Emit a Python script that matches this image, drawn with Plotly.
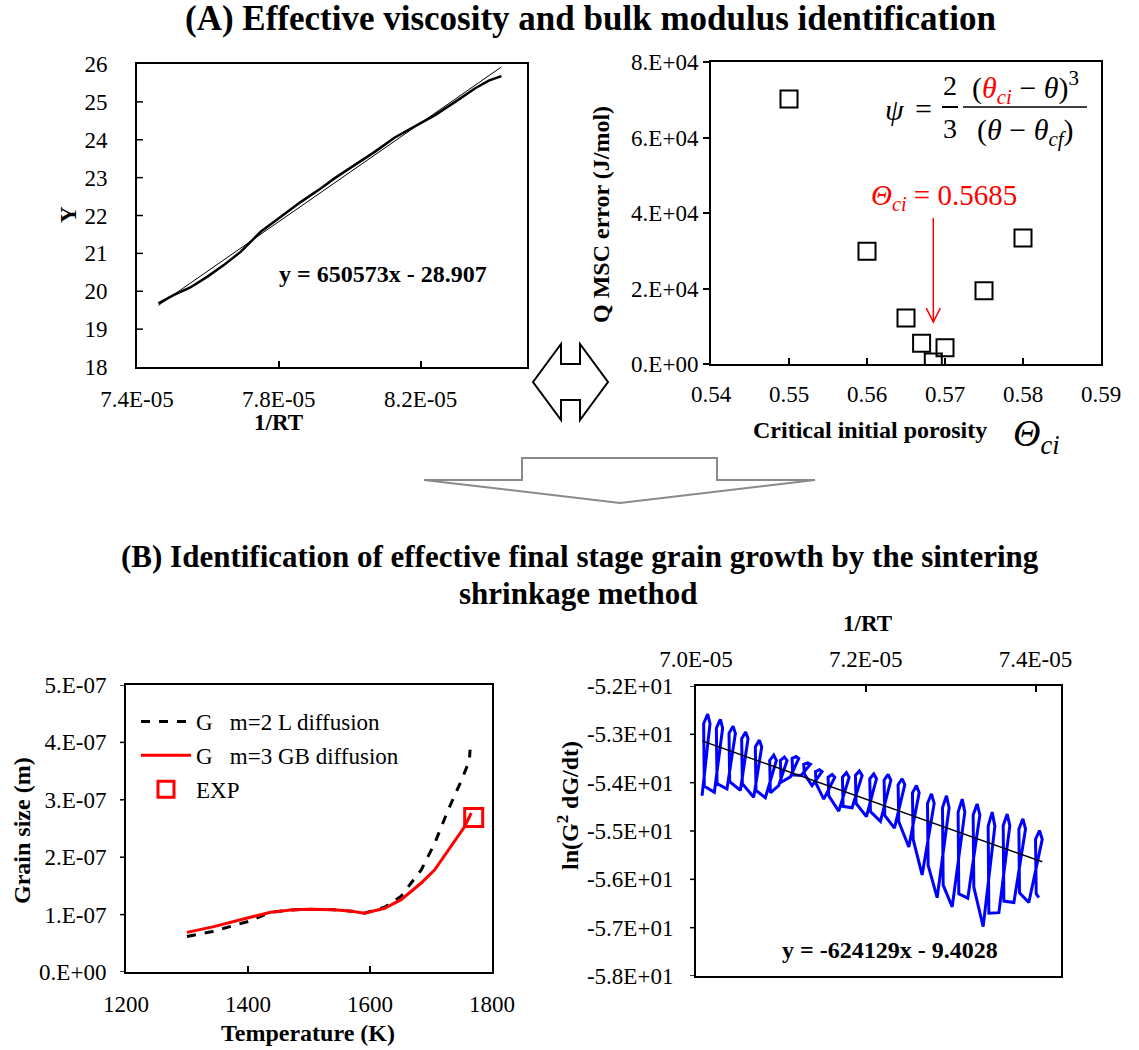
import plotly.graph_objects as go

W, H = 1139, 1050
FONT = "Liberation Serif"


def px(x):
    return x / W


def py(y):
    return 1 - y / H


# ---------------- Panel A-left : Y vs 1/RT ----------------
a1_x = [7.4604e-5, 7.5030e-5, 7.5504e-5, 7.5977e-5, 7.6448e-5, 7.6922e-5, 7.7489e-5,
        7.8057e-5, 7.8624e-5, 7.9191e-5, 7.9569e-5, 8.0136e-5, 8.0704e-5, 8.1271e-5,
        8.1838e-5, 8.2406e-5, 8.2973e-5, 8.3540e-5, 8.3921e-5, 8.4278e-5]
a1_y = [19.68, 19.90, 20.10, 20.38, 20.69, 21.04, 21.57, 21.97, 22.36, 22.72, 22.98,
        23.33, 23.68, 24.06, 24.36, 24.65, 25.00, 25.36, 25.56, 25.68]
a1_slope, a1_intercept = 650573, -28.907
a1_xticks = [7.4e-5, 7.8e-5, 8.2e-5]
a1_xticklabels = ["7.4E-05", "7.8E-05", "8.2E-05"]
a1_yticks = [18, 19, 20, 21, 22, 23, 24, 25, 26]
a1_yticklabels = ["18", "19", "20", "21", "22", "23", "24", "25", "26"]

# ---------------- Panel A-right : Q MSC error vs critical porosity ----------------
a2_theta = [0.550, 0.560, 0.565, 0.567, 0.5685, 0.570, 0.575, 0.580]
a2_err = [70200, 29900, 12200, 5500, 500, 4300, 19400, 33400]
a2_theta_opt = 0.5685
a2_xticks = [0.54, 0.55, 0.56, 0.57, 0.58, 0.59]
a2_xticklabels = ["0.54", "0.55", "0.56", "0.57", "0.58", "0.59"]
a2_yticks = [0, 20000, 40000, 60000, 80000]
a2_yticklabels = ["0.E+00", "2.E+04", "4.E+04", "6.E+04", "8.E+04"]

# ---------------- Panel B-left : grain size vs temperature ----------------
b1_T_m2 = [1300, 1340, 1400, 1437, 1470, 1497, 1541, 1570, 1591, 1624, 1651, 1684,
           1706, 1728, 1750, 1763, 1764, 1766]
b1_G_m2 = [0.62e-7, 0.70e-7, 0.88e-7, 1.04e-7, 1.08e-7, 1.095e-7, 1.085e-7, 1.06e-7,
           1.026e-7, 1.13e-7, 1.32e-7, 1.78e-7, 2.24e-7, 2.82e-7, 3.34e-7, 3.69e-7,
           3.87e-7, 3.72e-7]
b1_T_m3 = [1300, 1344, 1399, 1437, 1470, 1497, 1541, 1570, 1591, 1624, 1651, 1684,
           1706, 1733, 1755, 1766]
b1_G_m3 = [0.69e-7, 0.79e-7, 0.94e-7, 1.04e-7, 1.08e-7, 1.095e-7, 1.085e-7, 1.06e-7,
           1.026e-7, 1.11e-7, 1.26e-7, 1.55e-7, 1.78e-7, 2.19e-7, 2.53e-7, 2.77e-7]
b1_T_exp = [1770]
b1_G_exp = [2.69e-7]
b1_xticks = [1200, 1400, 1600, 1800]
b1_xticklabels = ["1200", "1400", "1600", "1800"]
b1_yticks = [0, 1e-7, 2e-7, 3e-7, 4e-7, 5e-7]
b1_yticklabels = ["0.E+00", "1.E-07", "2.E-07", "3.E-07", "4.E-07", "5.E-07"]

# ---------------- Panel B-right : ln(G^2 dG/dt) vs 1/RT ----------------
b2_x = [7.0071e-5, 7.0165e-5, 7.0138e-5, 7.0090e-5, 7.0098e-5,
        7.0216e-5, 7.0314e-5, 7.0287e-5, 7.0240e-5, 7.0248e-5,
        7.0365e-5, 7.0464e-5, 7.0436e-5, 7.0389e-5, 7.0397e-5,
        7.0523e-5, 7.0613e-5, 7.0585e-5, 7.0538e-5, 7.0546e-5,
        7.0680e-5, 7.0774e-5, 7.0747e-5, 7.0699e-5, 7.0707e-5,
        7.0817e-5, 7.0947e-5, 7.0916e-5, 7.0868e-5, 7.0876e-5,
        7.0974e-5, 7.1073e-5, 7.1041e-5, 7.0994e-5, 7.1002e-5,
        7.1112e-5, 7.1210e-5, 7.1179e-5, 7.1132e-5, 7.1139e-5,
        7.1238e-5, 7.1348e-5, 7.1316e-5, 7.1269e-5, 7.1277e-5,
        7.1367e-5, 7.1485e-5, 7.1454e-5, 7.1407e-5, 7.1415e-5,
        7.1505e-5, 7.1635e-5, 7.1603e-5, 7.1556e-5, 7.1564e-5,
        7.1682e-5, 7.1804e-5, 7.1772e-5, 7.1725e-5, 7.1733e-5,
        7.1839e-5, 7.1957e-5, 7.1925e-5, 7.1878e-5, 7.1886e-5,
        7.2008e-5, 7.2126e-5, 7.2094e-5, 7.2047e-5, 7.2055e-5,
        7.2173e-5, 7.2295e-5, 7.2263e-5, 7.2216e-5, 7.2224e-5,
        7.2338e-5, 7.2460e-5, 7.2428e-5, 7.2381e-5, 7.2389e-5,
        7.2507e-5, 7.2629e-5, 7.2597e-5, 7.2550e-5, 7.2558e-5,
        7.2664e-5, 7.2806e-5, 7.2774e-5, 7.2727e-5, 7.2735e-5,
        7.2841e-5, 7.2982e-5, 7.2951e-5, 7.2904e-5, 7.2912e-5,
        7.3018e-5, 7.3167e-5, 7.3136e-5, 7.3088e-5, 7.3096e-5,
        7.3202e-5, 7.3344e-5, 7.3312e-5, 7.3265e-5, 7.3273e-5,
        7.3383e-5, 7.3521e-5, 7.3489e-5, 7.3442e-5, 7.3450e-5,
        7.3568e-5, 7.3697e-5, 7.3666e-5, 7.3619e-5, 7.3627e-5,
        7.3745e-5, 7.3882e-5, 7.3851e-5, 7.3804e-5, 7.3811e-5,
        7.3921e-5, 7.4079e-5, 7.4047e-5, 7.4000e-5, 7.4008e-5,
        7.4039e-5]
b2_y = [-54.27, -52.78, -52.58, -52.78, -54.07,
        -54.20, -52.87, -52.69, -52.87, -54.02,
        -54.13, -52.98, -52.83, -52.98, -53.98,
        -54.16, -53.09, -52.95, -53.09, -54.02,
        -54.30, -53.26, -53.12, -53.26, -54.16,
        -54.31, -53.54, -53.43, -53.54, -54.21,
        -54.06, -53.54, -53.47, -53.54, -53.99,
        -53.88, -53.50, -53.46, -53.50, -53.84,
        -53.85, -53.62, -53.59, -53.62, -53.82,
        -54.06, -53.77, -53.73, -53.77, -54.02,
        -54.34, -53.89, -53.83, -53.89, -54.27,
        -54.59, -53.89, -53.79, -53.89, -54.49,
        -54.52, -53.85, -53.76, -53.85, -54.43,
        -54.70, -53.92, -53.82, -53.92, -54.60,
        -54.80, -53.95, -53.83, -53.95, -54.68,
        -54.94, -54.04, -53.92, -54.04, -54.81,
        -55.33, -54.21, -54.06, -54.21, -55.17,
        -55.91, -54.43, -54.23, -54.43, -55.71,
        -56.38, -54.52, -54.27, -54.52, -56.12,
        -56.57, -54.61, -54.34, -54.61, -56.30,
        -56.39, -54.67, -54.44, -54.67, -56.16,
        -56.98, -54.90, -54.61, -54.90, -56.70,
        -56.69, -54.89, -54.65, -54.89, -56.45,
        -56.48, -54.96, -54.75, -54.96, -56.28,
        -56.48, -55.17, -54.99, -55.17, -56.30,
        -56.38]
b2_slope, b2_intercept = -624129, -9.4028
b2_xticks = [7.0e-5, 7.2e-5, 7.4e-5]
b2_xticklabels = ["7.0E-05", "7.2E-05", "7.4E-05"]
b2_yticks = [-58, -57, -56, -55, -54, -53, -52]
b2_yticklabels = ["-5.8E+01", "-5.7E+01", "-5.6E+01", "-5.5E+01", "-5.4E+01",
                  "-5.3E+01", "-5.2E+01"]

# ---------------- figure ----------------
fig = go.Figure()

# A-left
fig.add_trace(go.Scatter(x=a1_x, y=a1_y, mode="lines", line=dict(color="black", width=2.5),
                         xaxis="x", yaxis="y", showlegend=False))
a1_fx = [min(a1_x), max(a1_x)]
fig.add_trace(go.Scatter(x=a1_fx, y=[a1_slope * v + a1_intercept for v in a1_fx], mode="lines",
                         line=dict(color="black", width=1), xaxis="x", yaxis="y",
                         showlegend=False))

# A-right
fig.add_trace(go.Scatter(x=a2_theta, y=a2_err, mode="markers",
                         marker=dict(symbol="square-open", size=17, color="black",
                                     line=dict(width=2, color="black")),
                         xaxis="x2", yaxis="y2", showlegend=False))

# B-left
fig.add_trace(go.Scatter(x=b1_T_m2, y=b1_G_m2, mode="lines", name="G   m=2 L diffusion",
                         line=dict(color="black", width=3, dash="dash"),
                         xaxis="x3", yaxis="y3", legendgroup="a"))
fig.add_trace(go.Scatter(x=b1_T_m3, y=b1_G_m3, mode="lines", name="G   m=3 GB diffusion",
                         line=dict(color="#ff0000", width=3),
                         xaxis="x3", yaxis="y3", legendgroup="b"))
fig.add_trace(go.Scatter(x=b1_T_exp, y=b1_G_exp, mode="markers", name="EXP",
                         marker=dict(symbol="square-open", size=18, color="#ff0000",
                                     line=dict(width=3, color="#ff0000")),
                         xaxis="x3", yaxis="y3", legendgroup="c"))

# B-right
fig.add_trace(go.Scatter(x=b2_x, y=b2_y, mode="lines", line=dict(color="#0000ff", width=3),
                         xaxis="x4", yaxis="y4", showlegend=False))
b2_fx = [min(b2_x), max(b2_x)]
fig.add_trace(go.Scatter(x=b2_fx, y=[b2_slope * v + b2_intercept for v in b2_fx], mode="lines",
                         line=dict(color="black", width=1.5), xaxis="x4", yaxis="y4",
                         showlegend=False))

tickfont = dict(family=FONT, size=23, color="black")
CLEAR = "rgba(0,0,0,0)"


def axis(domain, rng, tickvals, ticktext, ticks, anchor, side=None, standoff=4,
         tickcolor="black", ticklen=6):
    d = dict(domain=domain, range=rng, tickvals=tickvals, ticktext=ticktext, ticks=ticks,
             ticklen=ticklen, tickwidth=1.5, tickcolor=tickcolor, showline=True,
             linecolor="black", linewidth=2, mirror=True, showgrid=False, zeroline=False,
             tickfont=tickfont, anchor=anchor, ticklabelstandoff=standoff, automargin=False)
    if side:
        d["side"] = side
    return d


# y axes: label distance set with long invisible ticks; visible ticks drawn as shapes below
fig.update_layout(
    width=W, height=H, margin=dict(l=0, r=0, t=0, b=0, autoexpand=False),
    paper_bgcolor="white", plot_bgcolor="white",
    font=dict(family=FONT, color="black"),
    xaxis=axis([px(137), px(527)], [7.4e-5, 8.5e-5], a1_xticks, a1_xticklabels, "inside", "y",
               standoff=10),
    yaxis=axis([py(367), py(64)], [18, 26], a1_yticks, a1_yticklabels, "outside", "x",
               standoff=0, tickcolor=CLEAR, ticklen=23),
    xaxis2=axis([px(711), px(1101)], [0.54, 0.59], a2_xticks, a2_xticklabels, "inside", "y2",
                standoff=8),
    yaxis2=axis([py(364), py(62)], [0, 80000], a2_yticks, a2_yticklabels, "outside", "x2",
                standoff=0),
    xaxis3=axis([px(126), px(492)], [1200, 1800], b1_xticks, b1_xticklabels, "inside", "y3",
                standoff=10),
    yaxis3=axis([py(972), py(685)], [0, 5e-7], b1_yticks, b1_yticklabels, "outside", "x3",
                standoff=0, tickcolor=CLEAR, ticklen=13),
    xaxis4=axis([px(696), px(1061)], [7.0e-5, 7.43e-5], b2_xticks, b2_xticklabels, "inside",
                "y4", side="top", standoff=8),
    yaxis4=axis([py(976), py(686)], [-58, -52], b2_yticks, b2_yticklabels, "outside", "x4",
                standoff=0, tickcolor=CLEAR, ticklen=16),
    legend=dict(x=px(136), y=py(700), xanchor="left", yanchor="top",
                font=dict(family=FONT, size=23, color="black"), bgcolor="rgba(0,0,0,0)",
                traceorder="grouped", tracegroupgap=1, itemwidth=50),
)

ann = []


def txt(x, y, s, size=22, bold=False, color="black", angle=0, italic=False, xanchor="center"):
    if bold:
        s = "<b>" + s + "</b>"
    if italic:
        s = "<i>" + s + "</i>"
    ann.append(dict(x=px(x), y=py(y), xref="paper", yref="paper", text=s, showarrow=False,
                    font=dict(family=FONT, size=size, color=color), textangle=angle,
                    xanchor=xanchor, yanchor="middle"))


# titles
txt(590, 19, "(A) Effective viscosity and bulk modulus identification", size=35, bold=True)
txt(580, 556, "(B) Identification of effective final stage grain growth by the sintering",
    size=31, bold=True)
txt(578, 593, "shrinkage method", size=31, bold=True)

# A-left labels
txt(278, 422, "1/RT", size=23, bold=True)
txt(69, 215, "Y", size=23, bold=True, angle=-90)
txt(383, 274, "y = 650573x - 28.907", size=24, bold=True)

# A-right labels
txt(601, 215, "Q MSC error (J/mol)", size=24, bold=True, angle=-90)
txt(870, 430, "Critical initial porosity", size=24, bold=True)
txt(1036, 436, "<i>Θ</i><sub><i>ci</i></sub>", size=38)
txt(944, 197, "<i>Θ</i><sub><i>ci</i></sub> = 0.5685", size=29, color="#ff0000")
# formula psi = 2/3 (theta_ci - theta)^3 / (theta - theta_cf)
txt(895, 110, "<i>ψ</i>", size=30)
txt(923, 108, "=", size=30)
txt(950, 85, "2", size=28)
txt(950, 128, "3", size=28)
txt(1025, 87, "(<span style='color:#ff0000'><i>θ</i><sub><i>ci</i></sub></span> − <i>θ</i>)<sup>3</sup>",
    size=30)
txt(1025, 132, "(<i>θ</i> − <i>θ</i><sub><i>cf</i></sub>)", size=30)

# B-left labels
txt(22, 831, "Grain size (m)", size=24, bold=True, angle=-90)
txt(308, 1033, "Temperature (K)", size=24, bold=True)

# B-right labels
txt(867, 623, "1/RT", size=23, bold=True)
txt(568, 806, "ln(G<sup>2</sup> dG/dt)", size=24, bold=True, angle=-90)
txt(890, 950, "y = -624129x - 9.4028", size=24, bold=True)

fig.update_layout(annotations=ann)

shapes = []
tick_line = dict(color="black", width=1.5)
# inward y ticks of panel A-left
for v in a1_yticks[1:-1]:
    shapes.append(dict(type="line", xref="x domain", yref="y", x0=0, x1=6 / 390, y0=v, y1=v,
                       line=tick_line))
# outward y ticks of panels B-left and B-right
for v in b1_yticks:
    shapes.append(dict(type="line", xref="x3 domain", yref="y3", x0=-6 / 366, x1=0, y0=v, y1=v,
                       line=tick_line))
for v in b2_yticks:
    shapes.append(dict(type="line", xref="x4 domain", yref="y4", x0=-6 / 365, x1=0, y0=v, y1=v,
                       line=tick_line))
# fraction bars
shapes.append(dict(type="line", xref="paper", yref="paper", x0=px(942), x1=px(958),
                   y0=py(107), y1=py(107), line=dict(color="black", width=2)))
shapes.append(dict(type="line", xref="paper", yref="paper", x0=px(963), x1=px(1087),
                   y0=py(107), y1=py(107), line=dict(color="black", width=1.5)))
# red arrow pointing to optimal theta_ci
shapes.append(dict(type="line", xref="x2", yref="y2", x0=a2_theta_opt, x1=a2_theta_opt,
                   y0=38700, y1=11100, line=dict(color="#ff0000", width=1.5)))
shapes.append(dict(type="path", xref="x2", yref="y2",
                   path=f"M{a2_theta_opt - 0.0009},{11100 + 3700} L{a2_theta_opt},{11100} "
                        f"L{a2_theta_opt + 0.0009},{11100 + 3700}",
                   line=dict(color="#ff0000", width=1.5)))


def poly(points):
    s = "M" + " L".join(f"{px(a):.5f},{py(b):.5f}" for a, b in points) + " Z"
    return s


# double-headed block arrow between the A panels
shapes.append(dict(type="path", xref="paper", yref="paper",
                   path=poly([(533, 382), (561, 344), (561, 364), (580, 364), (580, 344),
                              (608, 382), (580, 420), (580, 400), (561, 400), (561, 420)]),
                   line=dict(color="black", width=2), fillcolor="white"))
# big downward arrow
shapes.append(dict(type="path", xref="paper", yref="paper",
                   path=poly([(424, 480), (522, 480), (522, 458), (717, 458), (717, 480),
                              (815, 480), (620, 503)]),
                   line=dict(color="#8a8a8a", width=2), fillcolor="white"))
fig.update_layout(shapes=shapes)

fig.write_html("out.html", config={"displayModeBar": False},
               post_script="document.body.style.margin='0px';"
                           "document.body.style.overflow='hidden';")
